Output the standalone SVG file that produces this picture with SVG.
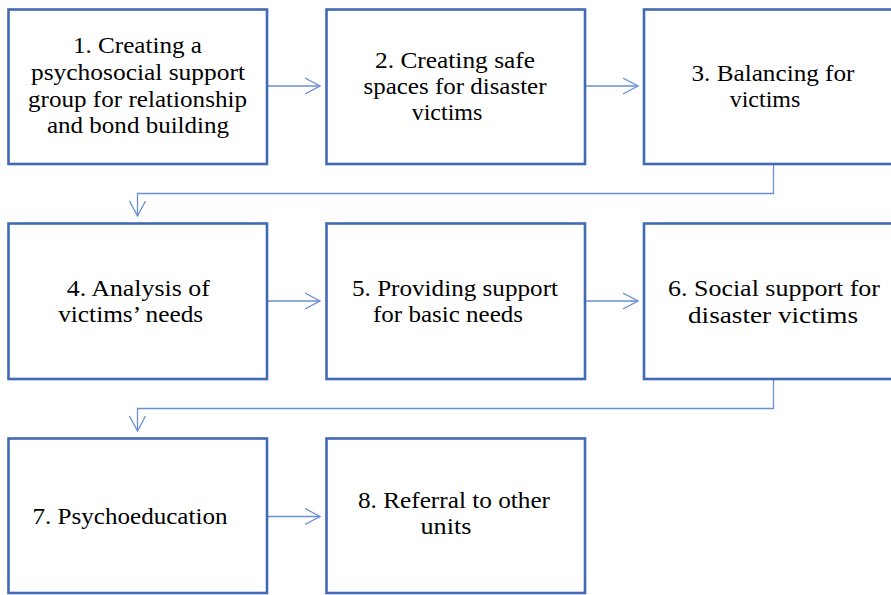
<svg xmlns="http://www.w3.org/2000/svg" width="891" height="595" viewBox="0 0 891 595">
<style>
.box{fill:#ffffff;stroke:#4169b4;stroke-width:2.6}
.con{fill:none;stroke:#6b8fd3;stroke-width:1.3}
.ah{fill:none;stroke:#6b8fd3;stroke-width:1.3}
</style>
<defs>
<marker id="arr" viewBox="0 0 16 18" refX="15" refY="9" markerWidth="16" markerHeight="18" markerUnits="userSpaceOnUse" orient="auto">
<path d="M0,1 L15,9 L0,17" class="ah"/>
</marker>
</defs>
<rect width="891" height="595" fill="#ffffff"/>
<g id="connectors">
<path class="con" d="M267,86 H320" marker-end="url(#arr)"/>
<path class="con" d="M585,86 H638" marker-end="url(#arr)"/>
<path class="con" d="M773.5,164 V193.5 H137.5 V216" marker-end="url(#arr)"/>
<path class="con" d="M267,301 H320" marker-end="url(#arr)"/>
<path class="con" d="M585,301 H638" marker-end="url(#arr)"/>
<path class="con" d="M773.5,379 V408.5 H137.5 V431" marker-end="url(#arr)"/>
<path class="con" d="M267,516.5 H320" marker-end="url(#arr)"/>
</g>
<g font-family="Liberation Serif" font-size="24" fill="#000000" text-anchor="middle">
<g id="node1">
<rect class="box" x="8.5" y="9.5" width="258.5" height="154.5"/>
<text x="137.5" y="53" textLength="129" lengthAdjust="spacingAndGlyphs">1. Creating a</text>
<text x="138" y="80" textLength="214" lengthAdjust="spacingAndGlyphs">psychosocial support</text>
<text x="137.5" y="106.5" textLength="219" lengthAdjust="spacingAndGlyphs">group for relationship</text>
<text x="138" y="133" textLength="182" lengthAdjust="spacingAndGlyphs">and bond building</text>
</g>
<g id="node2">
<rect class="box" x="326.5" y="9.5" width="258.5" height="154.5"/>
<text x="455" y="67.5" textLength="160" lengthAdjust="spacingAndGlyphs">2. Creating safe</text>
<text x="455" y="94" textLength="183" lengthAdjust="spacingAndGlyphs">spaces for disaster</text>
<text x="447" y="120">victims</text>
</g>
<g id="node3">
<rect class="box" x="644" y="9.5" width="258.5" height="154.5"/>
<text x="773" y="81" textLength="163" lengthAdjust="spacingAndGlyphs">3. Balancing for</text>
<text x="765" y="107">victims</text>
</g>
<g id="node4">
<rect class="box" x="8.5" y="223.5" width="258.5" height="155.5"/>
<text x="138.3" y="295.5" textLength="143" lengthAdjust="spacingAndGlyphs">4. Analysis of</text>
<text x="130.7" y="322" textLength="145" lengthAdjust="spacingAndGlyphs">victims’ needs</text>
</g>
<g id="node5">
<rect class="box" x="326.5" y="223.5" width="258.5" height="155.5"/>
<text x="455" y="295.5" textLength="206" lengthAdjust="spacingAndGlyphs">5. Providing support</text>
<text x="448" y="322" textLength="150" lengthAdjust="spacingAndGlyphs">for basic needs</text>
</g>
<g id="node6">
<rect class="box" x="644" y="223.5" width="258.5" height="155.5"/>
<text x="774" y="296" textLength="212" lengthAdjust="spacingAndGlyphs">6. Social support for</text>
<text x="773" y="322.5" textLength="170" lengthAdjust="spacingAndGlyphs">disaster victims</text>
</g>
<g id="node7">
<rect class="box" x="8.5" y="438.5" width="258.5" height="154.5"/>
<text x="130" y="523.5" textLength="195" lengthAdjust="spacingAndGlyphs">7. Psychoeducation</text>
</g>
<g id="node8">
<rect class="box" x="326.5" y="438.5" width="258.5" height="154.5"/>
<text x="454" y="507.5" textLength="192" lengthAdjust="spacingAndGlyphs">8. Referral to other</text>
<text x="446" y="534" textLength="51" lengthAdjust="spacingAndGlyphs">units</text>
</g>
</g>
</svg>
